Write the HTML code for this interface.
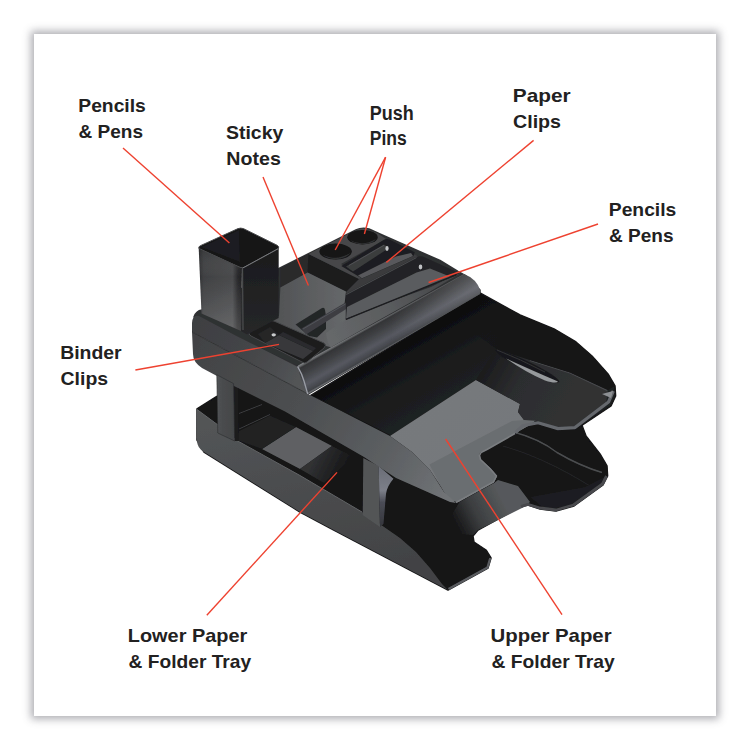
<!DOCTYPE html>
<html><head><meta charset="utf-8">
<style>
html,body{margin:0;padding:0;background:#fff;}
body{width:750px;height:750px;position:relative;overflow:hidden;font-family:"Liberation Sans",sans-serif;}
#card{position:absolute;left:34px;top:34px;width:682px;height:682px;background:#fff;box-shadow:0 0 8px 3px rgba(60,60,72,0.42);}
svg{position:absolute;left:0;top:0;}
.t{font-family:"Liberation Sans",sans-serif;font-weight:bold;font-size:19px;fill:#222121;}
.l{stroke:#ee4230;stroke-width:1.4;fill:none;}
</style></head><body>
<div id="card"></div>
<svg width="750" height="750" viewBox="0 0 750 750">
<g id="product" filter="url(#soft)">
<defs>
<filter id="soft" x="-5%" y="-5%" width="110%" height="110%"><feGaussianBlur stdDeviation="0.45"/></filter>
<linearGradient id="gLTwall" x1="0" y1="0" x2="0.3" y2="1"><stop offset="0" stop-color="#545658"/><stop offset="1" stop-color="#424345"/></linearGradient>
<linearGradient id="gUTwall" gradientUnits="userSpaceOnUse" x1="195" y1="345" x2="450" y2="490"><stop offset="0" stop-color="#424345"/><stop offset="0.45" stop-color="#4e5052"/><stop offset="0.75" stop-color="#5c5f62"/><stop offset="1" stop-color="#707376"/></linearGradient>
<linearGradient id="gLip" gradientUnits="userSpaceOnUse" x1="385" y1="316.6" x2="399" y2="341.2"><stop offset="0" stop-color="#7e8083"/><stop offset="0.05" stop-color="#5e6062"/><stop offset="0.1" stop-color="#343537"/><stop offset="0.28" stop-color="#3c3d40"/><stop offset="0.45" stop-color="#46484c"/><stop offset="0.7" stop-color="#565860"/><stop offset="0.88" stop-color="#484a50"/><stop offset="0.96" stop-color="#404246"/><stop offset="1" stop-color="#66686c"/></linearGradient>
<linearGradient id="gCupL" x1="0" y1="0" x2="1" y2="0"><stop offset="0" stop-color="#2f3032"/><stop offset="0.12" stop-color="#404143"/><stop offset="0.78" stop-color="#494a4c"/><stop offset="0.9" stop-color="#2a2a2c"/><stop offset="1" stop-color="#1f1f21"/></linearGradient>
<linearGradient id="gCupR" x1="0" y1="0" x2="0" y2="1"><stop offset="0" stop-color="#1b1b1d"/><stop offset="1" stop-color="#262729"/></linearGradient>
<linearGradient id="gRefl" x1="0" y1="0" x2="1" y2="1"><stop offset="0" stop-color="#777a7d"/><stop offset="1" stop-color="#74777a"/></linearGradient>
<linearGradient id="gSticky" x1="0" y1="0" x2="1" y2="0"><stop offset="0" stop-color="#505254"/><stop offset="1" stop-color="#66686a"/></linearGradient>
<linearGradient id="gLTfl" gradientUnits="userSpaceOnUse" x1="452" y1="520" x2="500" y2="495"><stop offset="0" stop-color="#141415"/><stop offset="0.45" stop-color="#3c3e40"/><stop offset="1" stop-color="#56595b"/></linearGradient>
<linearGradient id="gFloorF" gradientUnits="userSpaceOnUse" x1="330" y1="340" x2="450" y2="280"><stop offset="0" stop-color="#66686a"/><stop offset="0.5" stop-color="#5a5c5e"/><stop offset="1" stop-color="#454648"/></linearGradient>
<linearGradient id="gFrontU" gradientUnits="userSpaceOnUse" x1="195" y1="320" x2="305" y2="380"><stop offset="0" stop-color="#3e3f42"/><stop offset="0.5" stop-color="#444548"/><stop offset="1" stop-color="#545658"/></linearGradient>
<linearGradient id="gUTfloorR" gradientUnits="userSpaceOnUse" x1="480" y1="365" x2="560" y2="410"><stop offset="0" stop-color="#19191b"/><stop offset="0.45" stop-color="#2c2d2f"/><stop offset="1" stop-color="#303133"/></linearGradient>
<linearGradient id="gLipR" gradientUnits="userSpaceOnUse" x1="390" y1="0" x2="480" y2="0"><stop offset="0" stop-color="#fff" stop-opacity="0"/><stop offset="1" stop-color="#fff" stop-opacity="0.13"/></linearGradient>
<linearGradient id="gPost2" x1="0" y1="0" x2="0" y2="1"><stop offset="0" stop-color="#6a6d76"/><stop offset="0.4" stop-color="#7c7f89"/><stop offset="0.6" stop-color="#4a4c55"/><stop offset="1" stop-color="#34353b"/></linearGradient>
<linearGradient id="gLTrefl2" gradientUnits="userSpaceOnUse" x1="315" y1="457" x2="345" y2="472"><stop offset="0" stop-color="#303133"/><stop offset="1" stop-color="#161617"/></linearGradient>
<linearGradient id="gUTbase" gradientUnits="userSpaceOnUse" x1="395" y1="345" x2="430" y2="405"><stop offset="0" stop-color="#0d0d0e"/><stop offset="0.6" stop-color="#1b1c1d"/><stop offset="1" stop-color="#1f2021"/></linearGradient>
<linearGradient id="gCupLV" x1="0" y1="0" x2="0" y2="1"><stop offset="0" stop-color="#000" stop-opacity="0.12"/><stop offset="0.35" stop-color="#fff" stop-opacity="0"/><stop offset="1" stop-color="#fff" stop-opacity="0.16"/></linearGradient>
<linearGradient id="gPost1" x1="0" y1="0" x2="1" y2="0"><stop offset="0" stop-color="#525456"/><stop offset="0.3" stop-color="#4a4c4e"/><stop offset="1" stop-color="#444648"/></linearGradient>
<linearGradient id="gUTwallR" gradientUnits="userSpaceOnUse" x1="470" y1="320" x2="530" y2="345"><stop offset="0" stop-color="#121314" stop-opacity="0"/><stop offset="1" stop-color="#121314" stop-opacity="1"/></linearGradient>
</defs>

<!-- ===== LOWER TRAY ===== -->
<path d="M197,409 L216,397 L236,386 L330,430 L480,380 L580,420 L586,436 L600,454 L607,466 L607.6,476 L603,485 L574,506 L556,511 L540,509 L528,505 L520,507 L478,530 L473,536 L474,542 L486,550 L491,558 L488,568 L448,590 L330,528 L300,512 L204,452 L197,440 Z" fill="#131314" stroke="#131314" stroke-width="1.5" stroke-linejoin="round"/>
<!-- gray reflection in lower tray between posts -->
<path d="M262,449 L296,427 L332,446 L300,469 Z" fill="#5f6163"/>
<path d="M300,469 L332,446 L354,457 L324,483 Z" fill="url(#gLTrefl2)"/>
<!-- lower tray front-floor reflection -->
<path d="M460,501 L494,483 L498,480 L518,486 L530,502 L524,507 L478,530 L473,535 L456,534 L450,518 Z" fill="url(#gLTfl)"/>
<path d="M512,431.5 Q540,439 557,452.5 Q580,466 602,472.5" stroke="#4c4e50" stroke-width="1.5" fill="none"/>
<path d="M503,446 Q545,458 590,486" stroke="#232426" stroke-width="1.3" fill="none"/>
<path d="M530,497 L546,510 L574,505 L603,484 L606,476 L585,487 Z" fill="#1d1e20"/>
<!-- lower tray left wall face -->
<path d="M196.5,409 L218,425 L236,440 L300,475.5 L330,493.2 L362,512 L382,525.5 L400,538 L416,552 L430,568 L442,584 L448,590 L330,528 L300,512 L204,452 Q197,448 197,440 Z" fill="url(#gLTwall)"/>
<path d="M197,409.5 L218,425 L236,440 L300,475.5 L330,493.2 L362,512" stroke="#626466" stroke-width="1" fill="none"/>
<!-- lower tray front lip -->
<path d="M448.5,589 L487.5,567.5 L490.3,558" fill="none" stroke="#5a5c60" stroke-width="2.4" stroke-linejoin="round"/>
<path d="M521,506.3 L528,504.3 L540,508 L556,510 L573.5,505 L602.5,484 L606.5,476" fill="none" stroke="#484a4d" stroke-width="2.8" stroke-linejoin="round"/>

<!-- ===== POSTS ===== -->
<path d="M233,383 L238,386 L239,441 L235,441 Z" fill="#1c1c1e"/>
<path d="M239,431 L270,415.5 L296,427 L262,449 L239,441 Z" fill="#202123"/>
<path d="M239,413.5 L262,404.5 M239,429 L270,414.5" stroke="#3d3e40" stroke-width="1" fill="none"/>
<path d="M363.3,458 L378.7,466 L380,527 L362.7,515 Z" fill="#535557"/>
<path d="M378.7,466 L393.5,478.7 Q387,486 386,494 L383.5,524 L380,527 Z" fill="url(#gPost2)"/>

<!-- ===== UPPER TRAY ===== -->
<path d="M310,396 L480,293 L520,315 L554,329 L576,342 L592,356 L608,374 L615,386 L615.6,396 L611,406 L578,428 L560,430 L540,423 L522,426 L514,434 L486,450 L480,452 L479,455 L480,459 L490,468 L497,476 L494,482 L456,503 L450,500 L412,452 L390,436 L320,400 Z" fill="url(#gUTbase)" stroke="#131314" stroke-width="1.5" stroke-linejoin="round"/>
<!-- gray reflection floor -->
<path d="M390,436 L476,380 L520,404 L518,412 L524,420 L536,420 L528,426 L486,450 L480,452 L479,455 L480,459 L490,468 L497,476 L494,482 L458,502 L450,500 L430,470 L412,452 Z" fill="url(#gRefl)"/>
<path d="M429.4,464.6 L512,421 L524,420 L536,420 L528,426 L486,450 L480,452 L479,455 L480,459 L490,468 L497,476 L494,482 L458,502 L450,500 L444,492 Z" fill="#6b6e71"/>
<path d="M520,404 L476,380 L496,349 L530,360 L570,372.5 L608,390 L606,404 L576,426 L558,428 L538,421 L524,420 L518,412 Z" fill="url(#gUTfloorR)"/>
<path d="M530,360.5 L570,373 L607,390.5" stroke="#48494c" stroke-width="1.1" fill="none"/>
<path d="M481,295 L520,315 L554,329 L576,342 L592,356 L608,374 L614.5,386 L608,390 L570,372.5 L530,360 L496,349 L470,330 Z" fill="url(#gUTwallR)"/>
<!-- ridge highlight -->
<path d="M495,350 Q498,347.5 528,361.5 Q558,376 559.5,382 Q556,384.5 526,370 Q496,355 495,350 Z" fill="#19191b"/>
<path d="M506,358.5 Q530,369.5 558,381.5 Q556,384 545,380.5 Q527,373 506,358.5 Z" fill="#96999c"/>
<path d="M497,350 Q520,359 545,372" stroke="#3a3b3d" stroke-width="0.8" fill="none"/>
<!-- front lip of upper tray -->
<path d="M515.5,432.5 L522.5,425.8 L538,422.8 L558,428.6 L575,427.6 L608.5,402 L613.3,391" fill="none" stroke="#65686d" stroke-width="3.2" stroke-linejoin="round"/>
<path d="M602,394 L611,398 L613,391 Z" fill="#8c8f92"/>
<path d="M456,502.5 L493.5,482 L496.5,476 L490,468.5 L480.5,459.5 L479.5,455.5 L481,452.5 L487,449.5 L515,433.5" fill="none" stroke="#7a7d80" stroke-width="1.6" stroke-linejoin="round"/>
<!-- upper tray left wall (outer) -->
<path d="M192,332 L307,393.5 L390,436 L412,452 L430,470 L444,492 L456,503 L450,502 L396,478 L364,457 L285,411.5 L234,386 L217,376 L202,368 Q193,362 193,354 Z" fill="url(#gUTwall)"/>

<path d="M216.8,374.8 L233.6,383.6 L234.6,441 L217.8,433 Z" fill="url(#gPost1)" stroke="#2a2b2d" stroke-width="0.6"/>
<!-- ===== ORGANIZER ===== -->
<!-- top surface -->
<path d="M194,317 Q196,311 202,310 L280,268 L300,258 L356,230 Q362,227 369,229 L380,234 L440,260.5 L458,271.5 L466,276 L480,290 L480,293 L308,394 L298,367 Z" fill="#2f3032" stroke="#2f3032" stroke-width="1.5" stroke-linejoin="round"/>
<!-- front face upper band -->
<path d="M192,323 Q192.5,314.5 199,316 L235,335.3 L298,367 L307,393.5 L192,332 Z" fill="url(#gFrontU)"/>
<path d="M192,332 L307,393.5" stroke="#222325" stroke-width="0.8" fill="none"/>
<!-- lip -->
<path d="M298,365.5 L464,274 Q477,279 480.5,291 L480,294 L307.5,394.5 Q300,380 298,365.5 Z" fill="url(#gLip)"/>

<path d="M297.6,366.4 Q302,374 304,381 Q306,388 307.7,394" stroke="#9a9da5" stroke-width="1.3" fill="none"/>
<path d="M298,365.5 L464,274 Q477,279 480.5,291 L480,294 L307.5,394.5 Q300,380 298,365.5 Z" fill="url(#gLipR)"/>
<!-- sticky notes tray -->
<path d="M280.4,268.4 L308.4,254 L308.4,272.4 L280.4,287.6 Z" fill="#29292b"/>
<path d="M308.4,254 L363.6,281.2 L360,286 L346,292 L307.6,272.4 Z" fill="#1b1c1e"/>
<path d="M280.4,287.6 L307.6,272.4 L346,291.6 L346,320 L331,347.3 L326,346 L272,320 L279,316 Z" fill="url(#gSticky)"/>
<path d="M346,291.6 L347.5,293 L346,305 L344.5,304 Z" fill="#202123"/>
<!-- ramp block and cylinder -->
<path d="M295.5,324.5 L322,308 Q324.5,307 325,310 L326,316 L326,329 L317,337.5 L309,336 Z" fill="#242528"/>
<path d="M301.5,328.5 L345.5,302.5 L347,308.5 L306,334.5 Z" fill="#3d3e43"/>
<path d="M303,329 L345.5,304" stroke="#55575c" stroke-width="0.9" fill="none"/>
<!-- floor in front of long tray -->
<path d="M326,333 L345.7,319.7 L375,307 L431,287 L456,274.5 L460.4,273.2 L430,291.6 L375,322.3 L336.3,344.3 L331,347.3 L328,343 Z" fill="url(#gFloorF)"/>
<path d="M308.4,254 L357,229.5 Q362,227.5 368,229.5 L378,233.5 L386,239 L341,264 L361,277 L363.6,281.2 Z" fill="#464749"/>
<path d="M361,277 L415,254.5 L419,257 L346.5,294.5 L346,292 Z" fill="#3a3b3d"/>
<!-- push pin holes -->
<ellipse cx="335.6" cy="251.6" rx="16.2" ry="8" fill="#141415"/>
<path d="M322,254 Q335,262 350,253 Q348,258 336,259.3 Q326,259 322,254 Z" fill="#303133"/>
<ellipse cx="362.5" cy="237.2" rx="15.2" ry="7.3" fill="#141415"/>
<path d="M350,240 Q362,247 376,239 Q373,244 363,244.3 Q354,244 350,240 Z" fill="#303133"/>
<!-- paper clip tray -->
<path d="M341.3,266 L384,239.7 Q387,238.2 390,239.8 L414.7,252.3 L413.5,256 L362,278.5 Z" fill="#1d1e20"/>
<path d="M346,266.5 L384,244.5 L389,248 L353,271.5 Z" fill="#3b3c3e"/>
<path d="M349,265.5 L384,245.3" stroke="#55575a" stroke-width="0.8" fill="none"/>
<path d="M358,275.5 L396,256.5 L411,253 L413,256 L362,278.3 Z" fill="#58595b"/>
<ellipse cx="387" cy="248.5" rx="1.6" ry="2.4" fill="#c5c7ca"/>
<!-- long pen tray -->
<path d="M346,294 L416.3,257 Q421,255.5 425,257.5 L459,273 L456,275.5 L437,283 L345.7,319.7 Z" fill="#222325"/>
<path d="M347,307 L416.5,272.5 L430,268.5 L451,277 L437,282.5 L346,318.7 Z" fill="#5a5c5e"/>
<path d="M346,319.3 L437,282.3 L456,274.8" stroke="#1d1e20" stroke-width="1.4" fill="none"/>
<path d="M346.3,294.5 L416.5,257.6" stroke="#55575a" stroke-width="0.8" fill="none"/>
<ellipse cx="420.5" cy="267" rx="1.8" ry="2.4" fill="#c0c2c5"/>
<!-- binder clip tray -->
<path d="M249,332 Q250,330 254,328 L268,321 Q271,320 274,321 L324,343 Q327,345 324,348 L307,362 Q305,364 302,362 L251,336 Q248,334 249,332 Z" fill="#1b1c1e" stroke="#47484a" stroke-width="1"/>
<path d="M265,343 L279,335 L313,351 L303,359 Z" fill="#38393b"/>
<path d="M279,335 L313,351 L316,348 L283,332 Z" fill="#2a2b2d"/>
<path d="M258,334 L270,327 L279,335 L265,343 Z" fill="#252628"/>
<ellipse cx="273.7" cy="334.8" rx="2.2" ry="1.6" fill="#c8cacc"/>

<!-- ===== CUP ===== -->
<path d="M198.7,248 L242,268 L241,331 L201.5,313.5 Z" fill="url(#gCupL)"/>
<path d="M242,268 L278.7,248 L278.6,318 L247,334.5 L241,331 Z" fill="url(#gCupR)"/>
<path d="M198.7,248 L242,268 L241,331 L201.5,313.5 Z" fill="url(#gCupLV)"/>
<path d="M242.6,268 L243,330" stroke="#5a5c5e" stroke-width="0.9" fill="none"/>
<path d="M198.9,248.4 Q198,246.6 201,245.4 L238,228.6 Q240.7,227.6 243.4,228.6 L277,245.2 Q279.6,246.6 278.5,248.6 L245,267 Q242.5,268.4 240,267.3 Z" fill="#131314" stroke="#4a4b4d" stroke-width="1"/>
<path d="M201,247 L239,230 L240,262 Z" fill="#1d1e20"/>
<path d="M243,267.8 L278.3,248.6" stroke="#77797c" stroke-width="1" fill="none"/>

</g>
<g id="lines">
<line class="l" x1="123" y1="148" x2="229.4" y2="243"/>
<line class="l" x1="263" y1="177" x2="308.4" y2="285.6"/>
<line class="l" x1="385.6" y1="157.2" x2="335.2" y2="250"/>
<line class="l" x1="385.6" y1="157.2" x2="364.4" y2="234"/>
<line class="l" x1="533.6" y1="140.4" x2="386.4" y2="262.4"/>
<line class="l" x1="598" y1="224" x2="428.6" y2="282.5"/>
<line class="l" x1="135.4" y1="370" x2="279" y2="344.4"/>
<line class="l" x1="206.8" y1="615.2" x2="337" y2="472.4"/>
<line class="l" x1="562" y1="614.7" x2="445.6" y2="439"/>
</g>
<g id="labels">
<text class="t" x="78.3" y="112" textLength="67.5" lengthAdjust="spacingAndGlyphs">Pencils</text>
<text class="t" x="78.5" y="137.6" textLength="64.5" lengthAdjust="spacingAndGlyphs">&amp; Pens</text>
<text class="t" x="226" y="139" textLength="57.3" lengthAdjust="spacingAndGlyphs">Sticky</text>
<text class="t" x="226.3" y="165" textLength="54.5" lengthAdjust="spacingAndGlyphs">Notes</text>
<text class="t" style="font-size:20px" x="369.8" y="119.8" textLength="44" lengthAdjust="spacingAndGlyphs">Push</text>
<text class="t" style="font-size:20px" x="369.8" y="144.6" textLength="37" lengthAdjust="spacingAndGlyphs">Pins</text>
<text class="t" x="512.8" y="102" textLength="57.8" lengthAdjust="spacingAndGlyphs">Paper</text>
<text class="t" x="513" y="127.6" textLength="48" lengthAdjust="spacingAndGlyphs">Clips</text>
<text class="t" x="608.8" y="216" textLength="67.5" lengthAdjust="spacingAndGlyphs">Pencils</text>
<text class="t" x="609" y="241.6" textLength="64.5" lengthAdjust="spacingAndGlyphs">&amp; Pens</text>
<text class="t" x="60.2" y="359.2" textLength="61.5" lengthAdjust="spacingAndGlyphs">Binder</text>
<text class="t" x="60.6" y="385" textLength="47.5" lengthAdjust="spacingAndGlyphs">Clips</text>
<text class="t" x="127.8" y="642" textLength="119.5" lengthAdjust="spacingAndGlyphs">Lower Paper</text>
<text class="t" x="128.6" y="667.5" textLength="122.5" lengthAdjust="spacingAndGlyphs">&amp; Folder Tray</text>
<text class="t" x="490.6" y="642" textLength="121" lengthAdjust="spacingAndGlyphs">Upper Paper</text>
<text class="t" x="491.6" y="667.5" textLength="123" lengthAdjust="spacingAndGlyphs">&amp; Folder Tray</text>
</g>
</svg>
</body></html>
